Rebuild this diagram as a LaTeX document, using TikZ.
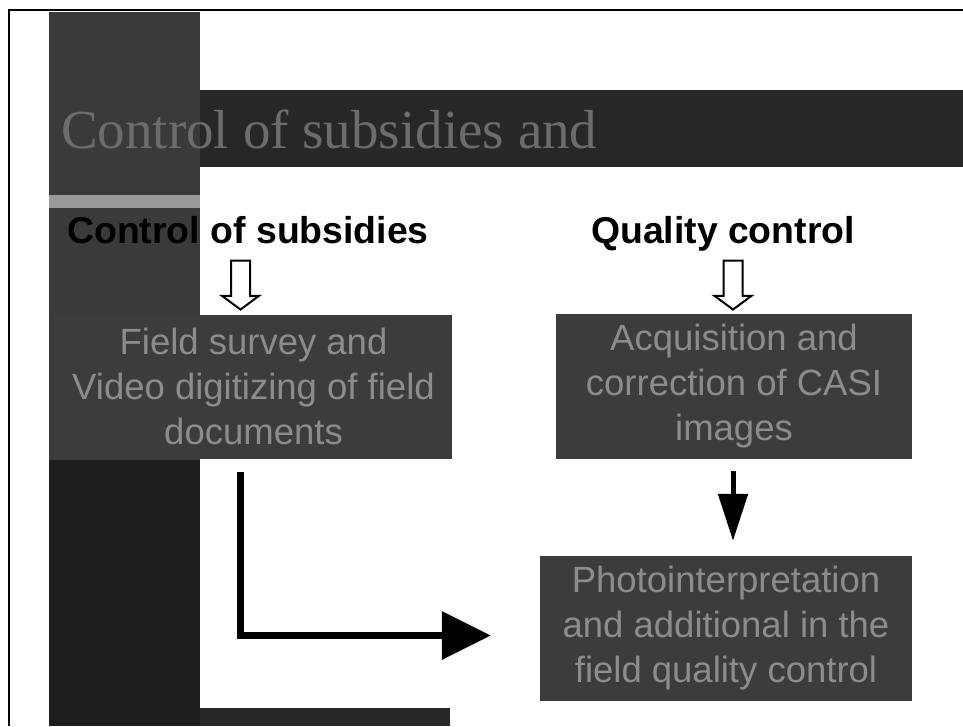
\documentclass[tikz,border=0pt]{standalone}
\usepackage{fontspec}
\setmainfont{Liberation Serif}
\setsansfont{Liberation Sans}
\usepackage{tikz}
\usetikzlibrary{arrows.meta}
\usetikzlibrary{positioning}
\usetikzlibrary{shapes.arrows}

\definecolor{colupper}{HTML}{3A3A3A}
\definecolor{collower}{HTML}{1E1E1E}
\definecolor{banddark}{HTML}{272727}
\definecolor{stripe}{HTML}{9A9A9A}
\definecolor{boxfill}{HTML}{3C3C3C}
\definecolor{boxtext}{HTML}{8C8C8C}
\definecolor{titletext}{HTML}{6C6C6C}

\tikzset{
  head/.style={inner sep=0pt, font=\sffamily\bfseries\fontsize{37.4}{44}\selectfont},
  box/.style={fill=boxfill, text=boxtext, align=center, inner sep=0pt,
    font=\sffamily\fontsize{36.5}{45}\selectfont},
  hollow/.style={single arrow, draw, fill=white, line width=2pt,
    inner xsep=0pt, inner ysep=8.5pt, font=\fontsize{1}{1}\selectfont,
    minimum height=49pt, single arrow head extend=9pt,
    single arrow tip angle=107, rotate=-90},
  flow/.style={line width=5pt, -{Triangle[length=47pt,width=29pt]}},
  bigflow/.style={line width=7pt, line join=miter, -{Triangle[length=49pt,width=47pt]}}
}

\begin{document}
\begin{tikzpicture}[x=1pt,y=-1pt]
  \useasboundingbox (0,0) rectangle (963,726);

  % slide layout: side column, title band, frame
  \fill[colupper] (49,12) rectangle (200,460);
  \fill[collower] (49,460) rectangle (200,726);
  \fill[stripe] (49,195) rectangle (200,208);
  \fill[banddark] (200,90) rectangle (963,167);
  \fill[banddark] (200,708) rectangle (450,726);
  \draw[line width=2pt] (9,726) -- (9,10) -- (963,10);

  \node (title) [anchor=base west, inner sep=0pt, text=titletext,
    font=\fontsize{55}{60}\selectfont] at (61,148) {Control of subsidies and};

  \node (hsub) [head, anchor=base west] at (67,243) {Control of subsidies};
  \node (hqual) [head, anchor=base] at (723,243) {Quality control};

  \node (bfield) [box, minimum width=397pt, minimum height=144pt] at (253.5,386.5)
    {Field survey and\\Video digitizing of field\\documents};
  \node (bcasi) [box, minimum width=356pt, minimum height=145pt] at (734,386.5)
    {Acquisition and\\correction of CASI\\images};
  \node (bphoto) [box, minimum width=372pt, minimum height=145pt] at (726,628.5)
    {Photointerpretation\\and additional in the\\field quality control};

  \node (asub) [hollow] at (240.5,281.5) {};
  \node (aqual) [hollow] at (733,281.5) {};

  \draw [flow, shorten <=12pt, shorten >=15pt] (bcasi.south -| aqual.center) -- (bphoto.north -| aqual.center);
  \draw [bigflow, shorten <=13pt, shorten >=49pt] (bfield.south -| asub.center) |- ([yshift=-7pt]bphoto.west);
\end{tikzpicture}
\end{document}
